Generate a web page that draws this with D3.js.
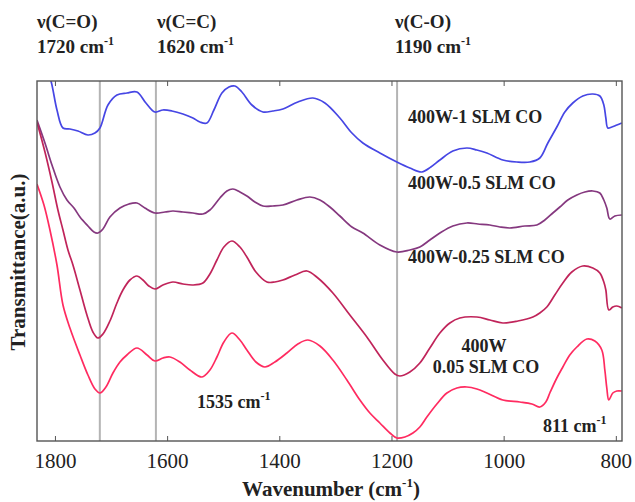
<!DOCTYPE html>
<html>
<head>
<meta charset="utf-8">
<script src="https://cdn.jsdelivr.net/npm/d3@7"></script>
<style>
  body { margin: 0; background: #fff; }
  text { font-family: "Liberation Serif", "Times New Roman", serif; fill: #222; }
</style>
</head>
<body>
<div id="chart"></div>
<script>

// wavenumber (cm-1) for each trace, and transmittance in arbitrary units (offset traces)
var wn1 = [1817.8,1807.1,1796.4,1785.7,1773.3,1759.0,1741.2,1728.7,1719.8,1705.5,1689.5,1671.7,1653.8,1637.8,1621.8,1607.5,1591.4,1571.8,1554.0,1541.5,1529.1,1516.6,1502.3,1489.8,1479.2,1466.7,1448.9,1429.2,1411.5,1393.6,1366.9,1340.1,1318.7,1292.0,1270.6,1251.0,1220.7,1190.4,1167.2,1145.8,1129.8,1113.7,1090.6,1065.6,1047.8,1029.9,1001.4,976.4,953.3,935.5,921.2,905.2,890.9,876.7,858.9,841.0,828.5,821.4,817.8,814.3,807.1,798.2,789.3];
var co1 = [3.76,3.60,3.31,3.13,3.12,3.10,3.06,3.08,3.13,3.36,3.46,3.48,3.49,3.38,3.29,3.31,3.30,3.27,3.23,3.19,3.18,3.31,3.48,3.54,3.55,3.49,3.36,3.29,3.30,3.32,3.39,3.43,3.38,3.23,3.08,2.98,2.88,2.79,2.73,2.69,2.74,2.81,2.90,2.93,2.91,2.88,2.81,2.79,2.79,2.83,2.98,3.14,3.29,3.38,3.45,3.47,3.45,3.36,3.23,3.13,3.14,3.16,3.18];

var wn05 = [1832.1,1817.8,1805.3,1791.1,1778.6,1766.1,1755.4,1741.2,1730.5,1723.4,1714.4,1702.0,1684.1,1668.1,1653.8,1639.6,1621.8,1603.9,1589.7,1571.8,1554.0,1536.2,1523.7,1505.9,1493.4,1482.7,1470.2,1457.8,1443.5,1429.2,1411.5,1393.6,1368.6,1345.5,1327.6,1309.8,1292.0,1270.6,1251.0,1220.7,1190.4,1167.2,1149.4,1131.6,1113.7,1090.6,1065.6,1046.0,1024.6,1006.8,988.9,962.2,940.8,926.6,912.3,899.8,885.6,869.5,855.3,841.0,828.5,821.4,816.1,810.7,801.8,789.3];
var co05 = [3.21,2.98,2.76,2.54,2.41,2.33,2.24,2.15,2.09,2.08,2.12,2.24,2.33,2.37,2.38,2.33,2.28,2.29,2.30,2.29,2.28,2.27,2.31,2.43,2.50,2.52,2.49,2.45,2.39,2.35,2.35,2.36,2.41,2.44,2.41,2.34,2.25,2.14,2.08,1.96,1.89,1.91,1.94,2.01,2.08,2.15,2.18,2.17,2.16,2.14,2.13,2.15,2.16,2.21,2.28,2.34,2.41,2.46,2.49,2.50,2.48,2.41,2.33,2.22,2.25,2.26];

var wn025 = [1832.1,1817.8,1805.3,1794.7,1785.7,1776.8,1767.9,1755.4,1743.0,1732.3,1723.4,1714.4,1702.0,1689.5,1678.8,1666.3,1653.8,1643.1,1632.5,1621.8,1607.5,1589.7,1571.8,1554.0,1536.2,1523.7,1511.2,1498.8,1484.5,1470.2,1457.8,1441.7,1422.1,1407.9,1393.6,1372.2,1350.8,1331.2,1304.5,1274.2,1243.9,1215.4,1194.0,1185.0,1167.2,1149.4,1131.6,1113.7,1095.9,1078.1,1047.8,1024.6,1001.4,974.6,947.9,935.5,923.0,908.8,894.5,878.5,858.9,841.0,828.5,821.4,817.8,812.5,805.4,798.2,789.3];
var co025 = [3.19,2.89,2.59,2.31,2.11,1.91,1.76,1.51,1.26,1.09,1.03,1.07,1.20,1.38,1.51,1.61,1.65,1.61,1.55,1.52,1.56,1.59,1.57,1.56,1.58,1.67,1.81,1.94,2.00,1.94,1.84,1.69,1.59,1.59,1.61,1.66,1.70,1.63,1.48,1.26,1.04,0.81,0.67,0.65,0.69,0.78,0.93,1.08,1.18,1.23,1.24,1.21,1.18,1.20,1.24,1.28,1.34,1.46,1.58,1.69,1.75,1.73,1.68,1.59,1.51,1.31,1.34,1.35,1.33];

var wn005 = [1832.1,1819.6,1808.9,1796.4,1785.7,1773.3,1755.4,1741.2,1728.7,1719.8,1709.1,1696.6,1684.1,1671.7,1653.8,1635.8,1621.8,1607.5,1595.0,1577.2,1559.4,1537.9,1523.7,1511.2,1498.8,1484.5,1470.2,1457.8,1441.7,1425.7,1407.9,1386.5,1366.9,1349.0,1327.6,1304.5,1279.5,1256.3,1238.5,1220.7,1202.8,1190.4,1176.1,1161.8,1149.4,1136.9,1119.1,1101.2,1083.4,1065.6,1047.8,1029.9,1001.4,971.1,949.7,935.5,924.8,917.7,905.2,894.5,882.1,869.5,851.7,837.4,825.0,819.6,816.1,812.5,805.4,798.2,789.3];
var co005 = [2.57,2.36,2.11,1.76,1.36,1.13,0.86,0.66,0.52,0.48,0.54,0.68,0.79,0.86,0.93,0.86,0.80,0.83,0.84,0.79,0.71,0.64,0.71,0.84,0.99,1.08,1.01,0.91,0.79,0.74,0.79,0.88,0.97,1.01,0.95,0.81,0.61,0.41,0.28,0.18,0.08,0.03,0.04,0.08,0.14,0.24,0.37,0.48,0.53,0.54,0.52,0.48,0.41,0.39,0.37,0.34,0.39,0.48,0.63,0.74,0.86,0.94,1.02,1.00,0.91,0.71,0.53,0.41,0.48,0.50,0.50];

var seriesNames = ["400W-1 SLM CO", "400W-0.5 SLM CO", "400W-0.25 SLM CO", "400W-0.05 SLM CO"];
var seriesColors = ["#4646e4", "#85387f", "#c0245a", "#ff2b60"];

var xTicks = [1800, 1600, 1400, 1200, 1000, 800];
var markLines = [1720, 1620, 1190];
var markNames = ["\u03bd(C=O)", "\u03bd(C=C)", "\u03bd(C-O)"];

var W = 635, H = 502;
var margin = {top: 81, right: 13, bottom: 61, left: 37};
var width = W - margin.left - margin.right,
    height = H - margin.top - margin.bottom;

var svg = d3.select("#chart").append("svg")
    .attr("width", W)
    .attr("height", H);

var x = d3.scaleLinear().domain([1832, 789]).range([0, width]);
var y = d3.scaleLinear().domain([0, 3.6]).range([height, 0]);

var g = svg.append("g")
    .attr("transform", "translate(" + margin.left + "," + margin.top + ")");

g.append("clipPath").attr("id", "clip")
  .append("rect").attr("width", width).attr("height", height);

// grey marker lines
g.selectAll(".mark")
  .data(markLines)
  .enter().append("line")
  .attr("class", "mark")
  .attr("x1", d => x(d)).attr("x2", d => x(d))
  .attr("y1", 0).attr("y2", height)
  .attr("stroke", "#b4b4b4")
  .attr("stroke-width", 2);

var line = d3.line()
  .x(d => x(d[0]))
  .y(d => y(d[1]))
  .curve(d3.curveCatmullRom.alpha(0.5));

var traces = [d3.zip(wn1, co1), d3.zip(wn05, co05), d3.zip(wn025, co025), d3.zip(wn005, co005)];

g.append("g").attr("clip-path", "url(#clip)")
  .selectAll("path")
  .data(traces)
  .enter().append("path")
  .attr("d", line)
  .attr("fill", "none")
  .attr("stroke", (d, i) => seriesColors[i])
  .attr("stroke-width", 1.7);

// frame
g.append("rect")
  .attr("width", width).attr("height", height)
  .attr("fill", "none")
  .attr("stroke", "#555")
  .attr("stroke-width", 1.4);

var xb = g.append("g")
  .attr("transform", "translate(0," + height + ")")
  .call(d3.axisBottom(x).tickValues(xTicks).tickSizeInner(-5).tickSizeOuter(0).tickPadding(12).tickFormat(d3.format("d")));
xb.select(".domain").remove();
xb.selectAll("line").attr("stroke", "#555");
xb.selectAll("text")
  .style("font-family", "'Liberation Serif', serif")
  .style("font-size", "21px")
  .attr("fill", "#222");

var xt = g.append("g")
  .call(d3.axisTop(x).tickValues(xTicks).tickSizeInner(-5).tickSizeOuter(0).tickFormat(""));
xt.select(".domain").remove();
xt.selectAll("line").attr("stroke", "#555");

// axis titles
var xl = svg.append("text")
  .attr("x", 331).attr("y", 496)
  .attr("text-anchor", "middle")
  .style("font-size", "21px").style("font-weight", "bold")
  .text("Wavenumber (cm");
xl.append("tspan").attr("dy", -9).style("font-size", "13px").text("-1");
xl.append("tspan").attr("dy", 9).text(")");

svg.append("text")
  .attr("transform", "translate(25,262) rotate(-90)")
  .attr("text-anchor", "middle")
  .style("font-size", "21px").style("font-weight", "bold")
  .text("Transmittance(a.u.)");

// band annotations above the frame
var markX = [37, 157, 395];
markNames.forEach(function(n, i) {
  svg.append("text")
    .attr("x", markX[i]).attr("y", 28)
    .style("font-size", "19px").style("font-weight", "bold")
    .text(n);
  var t = svg.append("text")
    .attr("x", markX[i]).attr("y", 53)
    .style("font-size", "19px").style("font-weight", "bold")
    .text(markLines[i] + " cm");
  t.append("tspan").attr("dy", -8).style("font-size", "12px").text("-1");
});

// trace labels
function label(txt, px, py, anchor) {
  svg.append("text")
    .attr("x", px).attr("y", py)
    .attr("text-anchor", anchor || "start")
    .style("font-size", "18px").style("font-weight", "bold")
    .text(txt);
}
label(seriesNames[0], 408, 123);
label(seriesNames[1], 408, 189);
label(seriesNames[2], 408, 263);
label("400W", 484, 352, "middle");
label("0.05 SLM CO", 486, 373, "middle");

function wnLabel(txt, px, py) {
  var t = svg.append("text")
    .attr("x", px).attr("y", py)
    .style("font-size", "18px").style("font-weight", "bold")
    .text(txt + " cm");
  t.append("tspan").attr("dy", -8).style("font-size", "12px").text("-1");
}
wnLabel("1535", 197, 408);
wnLabel("811", 543, 432);

</script>
</body>
</html>
